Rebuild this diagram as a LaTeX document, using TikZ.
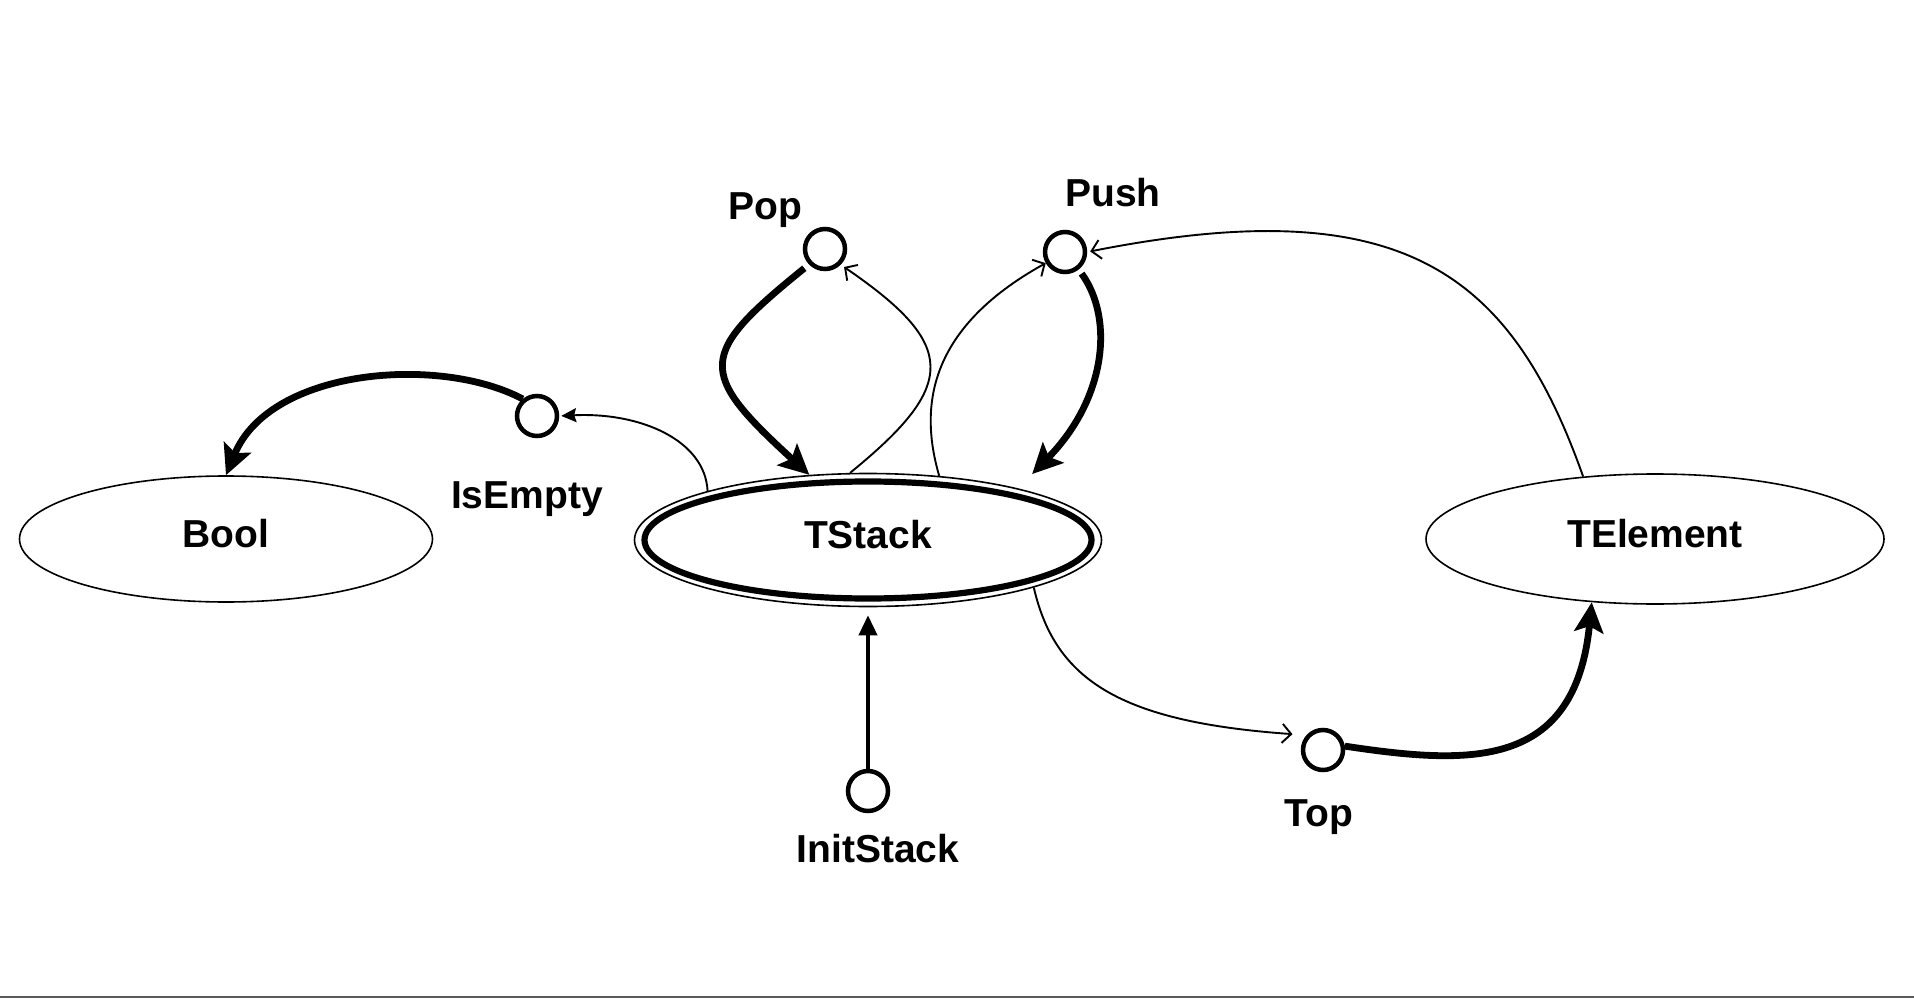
\documentclass[tikz,border=0pt]{standalone}
\usepackage{fontspec}
\setmainfont{Liberation Sans}
\usetikzlibrary{arrows.meta,shapes.geometric}
\definecolor{frameline}{RGB}{90,90,90}
\begin{document}
\begin{tikzpicture}[x=1pt,y=-1pt,
  txt/.style={font=\fontsize{39}{46}\selectfont\bfseries, inner sep=0pt},
  typ/.style={ellipse, draw, line width=1.6pt, inner sep=0pt, txt, text height=28pt, text depth=12pt},
  op/.style={circle, draw, line width=4.5pt, minimum size=40pt, inner sep=0pt},
  thinarr/.style={line width=1.9pt, -{Straight Barb[length=9pt,width=19pt,line width=1.9pt]}},
  thinfill/.style={line width=1.9pt, -{Stealth[length=15pt,width=14pt,inset=2pt]}},
  thickarr/.style={line width=6.8pt, -{Stealth[length=30pt,width=29pt,inset=6pt]}},
  medarr/.style={line width=3.8pt, -{Triangle[length=20pt,width=18pt]}}
]
\useasboundingbox (0,0) rectangle (1914,1000);
\draw[frameline, line width=2pt] (0,997) -- (1914,997);

% type nodes
\node[typ, minimum width=413pt, minimum height=126pt] (Bool) at (226,539) {Bool};
\node[typ, minimum width=467pt, minimum height=133pt] (TStack) at (868,540) {TStack};
\draw[line width=6.2pt] (TStack.center) ellipse [x radius=223.5pt, y radius=58.5pt];
\node[typ, minimum width=458pt, minimum height=130pt] (TElement) at (1655,539) {TElement};

% operation nodes
\node[op] (Pop) at (825,249) {};
\node[op] (Push) at (1065,252) {};
\node[op] (IsEmpty) at (537,416) {};
\node[op] (InitStack) at (868,791) {};
\node[op] (Top) at (1323,750) {};

% labels
\node[txt] (PopL) at (765,210) {Pop};
\node[txt] (PushL) at (1113,193) {Push};
\node[txt] (IsEmptyL) at (527,499) {IsEmpty};
\node[txt] (InitStackL) at (878,849) {InitStack};
\node[txt] (TopL) at (1319,817) {Top};

% connectors
\draw[thickarr] (IsEmpty.130) .. controls (440,355) and (270,368) .. (Bool.north);
\draw[thinfill, shorten >=2pt] (TStack.163) .. controls (705,440) and (640,412) .. (IsEmpty.east);
\draw[thickarr, shorten <=6pt] (Pop.224) .. controls (697,355) and (697,372) .. (TStack.132);
\draw[thinarr, shorten >=4pt] (TStack.105) .. controls (958,385) and (958,345) .. (Pop.-45);
\draw[thinarr] (TStack.42) .. controls (920,410) and (925,330) .. (Push.210);
\draw[thickarr, shorten <=5pt, shorten >=20pt] (Push.308) .. controls (1115,320) and (1105,400) .. (TStack.19);
\draw[thinarr, shorten >=3pt] (TElement.139) .. controls (1510,270) and (1400,190) .. (Push.east);
\draw[thinarr, shorten >=14pt] (TStack.344) .. controls (1055,680) and (1120,722) .. (Top.138);
\draw[thickarr] (Top.10) .. controls (1470,765) and (1575,770) .. (TElement.225);
\draw[medarr, shorten >=8pt] (InitStack.north) -- (TStack.south);
\end{tikzpicture}
\end{document}
